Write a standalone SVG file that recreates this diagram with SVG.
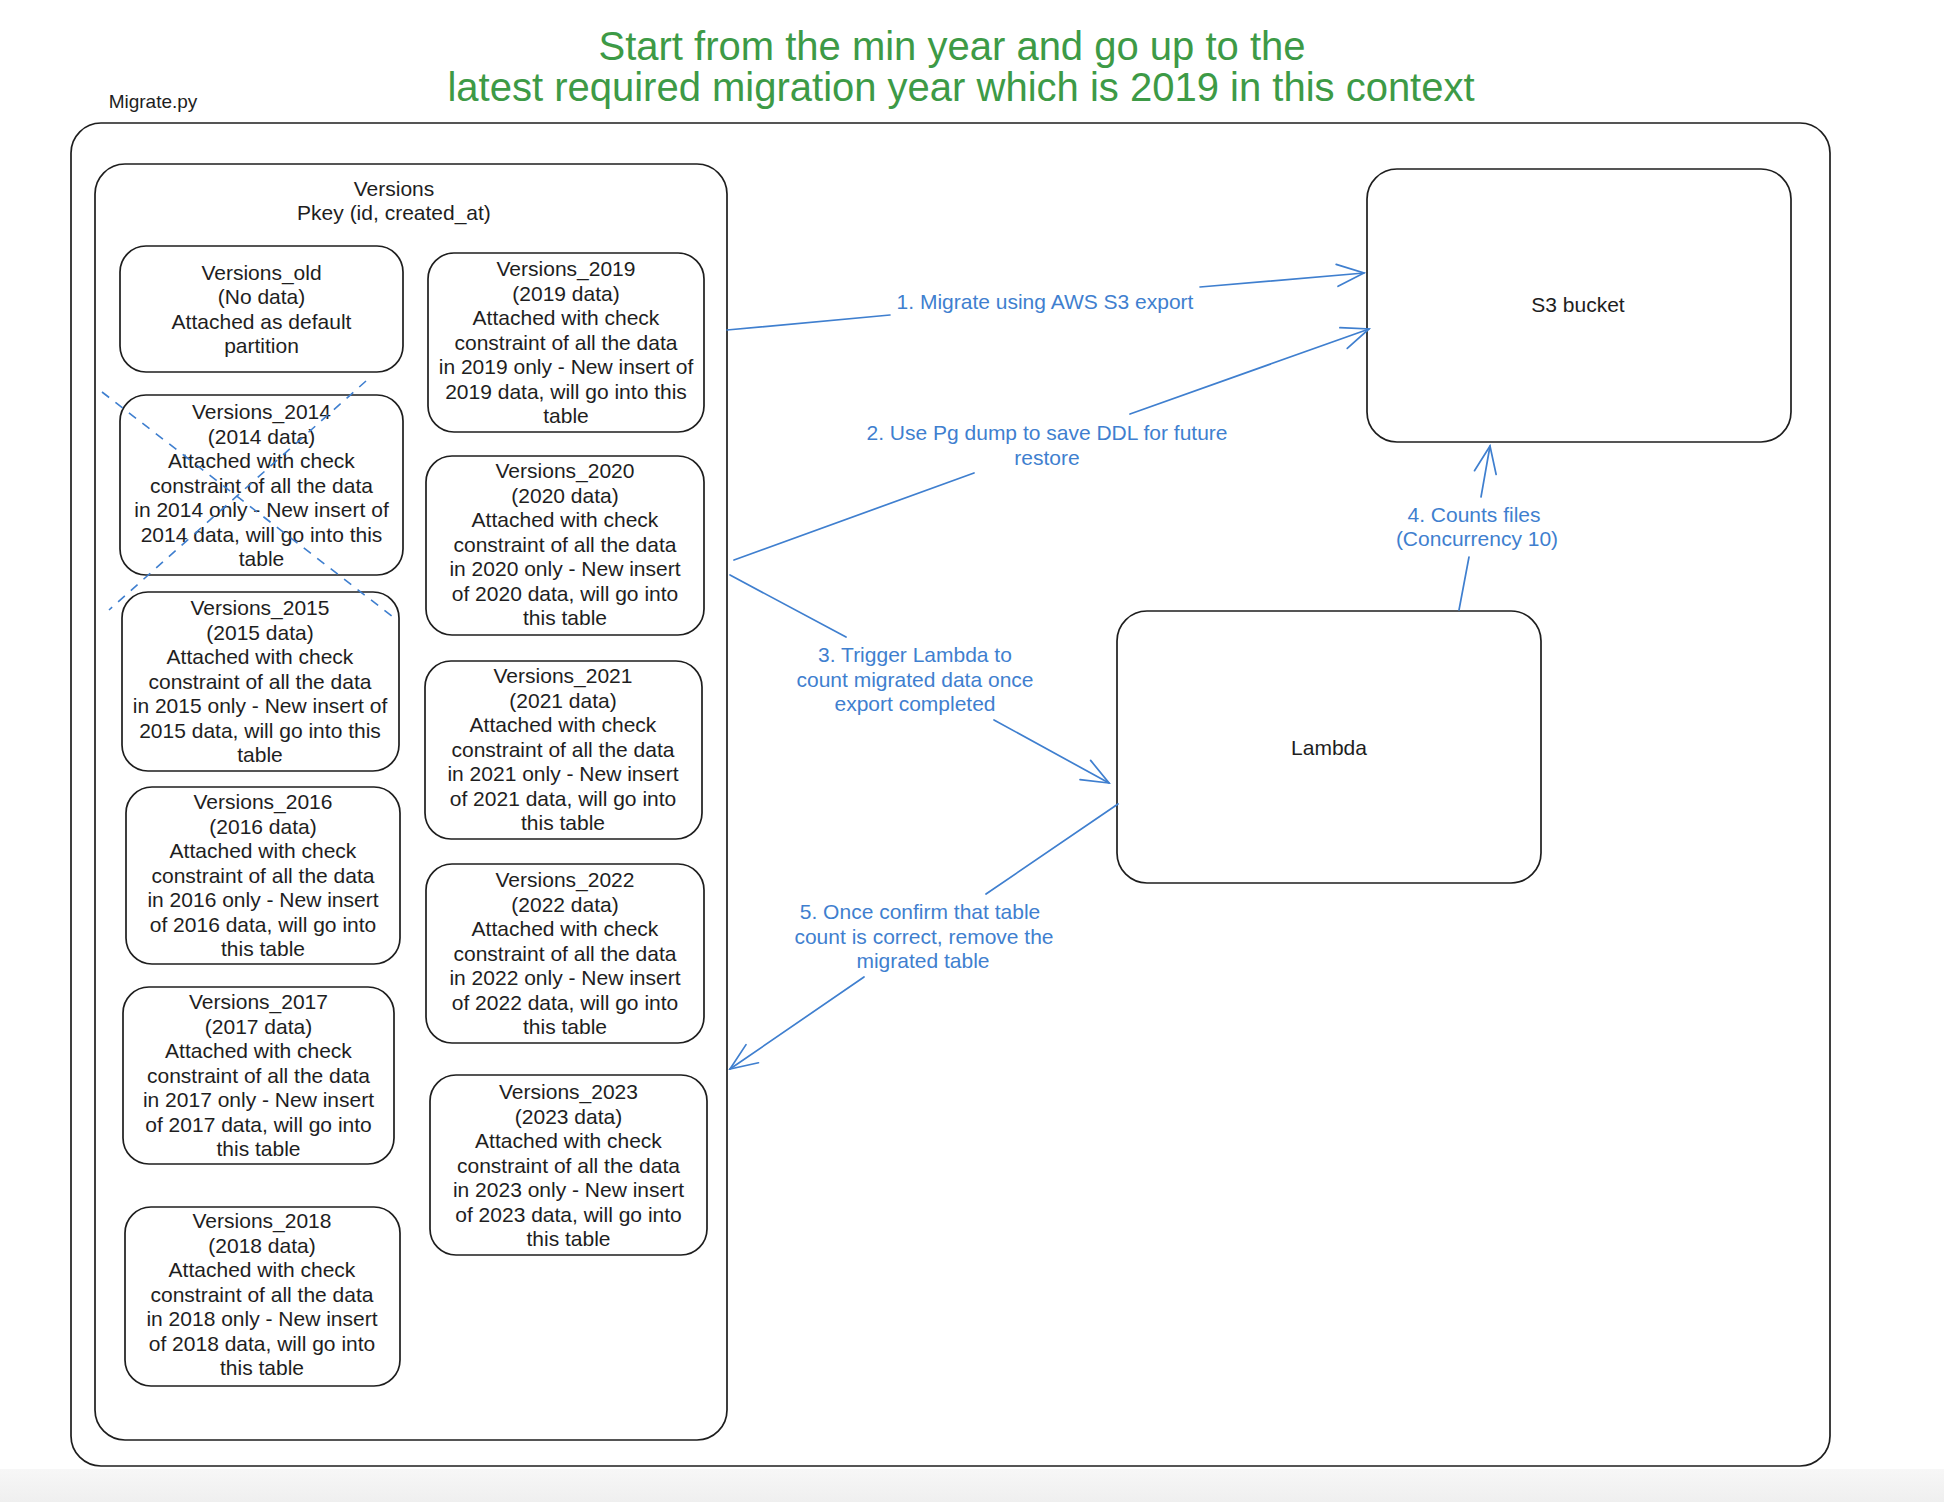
<svg xmlns="http://www.w3.org/2000/svg" width="1944" height="1502" viewBox="0 0 1944 1502">
<defs>
<style>
.box{fill:#ffffff;stroke:#1e1e1e;stroke-width:1.7}
.frame{fill:none;stroke:#1e1e1e;stroke-width:1.7}
.t{font-family:"Liberation Sans",Arial,sans-serif;font-size:21px;fill:#1e1e1e;text-anchor:middle}
.lbl{font-family:"Liberation Sans",Arial,sans-serif;font-size:21px;fill:#3f7fcf;text-anchor:middle}
.title{font-family:"Liberation Sans",Arial,sans-serif;font-size:40px;fill:#3d9a46;text-anchor:middle}
.conn{fill:none;stroke:#3f7fcf;stroke-width:1.7;stroke-linecap:round}
.dash{fill:none;stroke:#3f7fcf;stroke-width:1.6;stroke-dasharray:9 8}
</style>
<marker id="arr" markerUnits="userSpaceOnUse" viewBox="-30 -15 32 30" refX="0" refY="0" markerWidth="32" markerHeight="30" orient="auto">
<path d="M -27 -11 L 0 0 L -27 11" fill="none" stroke="#3f7fcf" stroke-width="1.7" stroke-linecap="round"/>
</marker>
<linearGradient id="bg" x1="0" y1="0" x2="0" y2="1">
<stop offset="0" stop-color="#f7f7f7"/>
<stop offset="1" stop-color="#efefef"/>
</linearGradient>
</defs>
<rect x="0" y="0" width="1944" height="1502" fill="#ffffff"/>
<rect x="0" y="1469" width="1944" height="33" fill="url(#bg)"/>

<g id="title">
<text class="title" x="952" y="60">Start from the min year and go up to the</text>
<text class="title" x="961" y="101">latest required migration year which is 2019 in this context</text>
</g>

<g id="migrate">
<rect class="box" x="71" y="123" width="1759" height="1343" rx="30"/>
<text class="t" x="153" y="108" style="font-size:19px">Migrate.py</text>
</g>

<g id="versions">
<rect class="box" x="95" y="164" width="632" height="1276" rx="30"/>
<text class="t" x="394" y="196">Versions</text>
<text class="t" x="394" y="220">Pkey (id, created_at)</text>
</g>

<g id="versions_old">
<rect class="box" x="120" y="246" width="283" height="126" rx="26"/>
<text class="t"><tspan x="261.5" y="280">Versions_old</tspan><tspan x="261.5" dy="24">(No data)</tspan><tspan x="261.5" dy="24.5">Attached as default</tspan><tspan x="261.5" dy="24.5">partition</tspan></text>
</g>

<g id="versions_2014">
<rect class="box" x="120" y="395" width="283" height="180" rx="26"/>
<text class="t"><tspan x="261.5" y="419">Versions_2014</tspan><tspan x="261.5" dy="24.5">(2014 data)</tspan><tspan x="261.5" dy="24.5">Attached with check</tspan><tspan x="261.5" dy="24.5">constraint of all the data</tspan><tspan x="261.5" dy="24.5">in 2014 only - New insert of</tspan><tspan x="261.5" dy="24.5">2014 data, will go into this</tspan><tspan x="261.5" dy="24.5">table</tspan></text>
</g>

<g id="versions_2015">
<rect class="box" x="122" y="592" width="277" height="179" rx="26"/>
<text class="t"><tspan x="260" y="615">Versions_2015</tspan><tspan x="260" dy="24.5">(2015 data)</tspan><tspan x="260" dy="24.5">Attached with check</tspan><tspan x="260" dy="24.5">constraint of all the data</tspan><tspan x="260" dy="24.5">in 2015 only - New insert of</tspan><tspan x="260" dy="24.5">2015 data, will go into this</tspan><tspan x="260" dy="24.5">table</tspan></text>
</g>

<g id="versions_2016">
<rect class="box" x="126" y="787" width="274" height="177" rx="26"/>
<text class="t"><tspan x="263" y="809">Versions_2016</tspan><tspan x="263" dy="24.5">(2016 data)</tspan><tspan x="263" dy="24.5">Attached with check</tspan><tspan x="263" dy="24.5">constraint of all the data</tspan><tspan x="263" dy="24.5">in 2016 only - New insert</tspan><tspan x="263" dy="24.5">of 2016 data, will go into</tspan><tspan x="263" dy="24.5">this table</tspan></text>
</g>

<g id="versions_2017">
<rect class="box" x="123" y="987" width="271" height="177" rx="26"/>
<text class="t"><tspan x="258.5" y="1009">Versions_2017</tspan><tspan x="258.5" dy="24.5">(2017 data)</tspan><tspan x="258.5" dy="24.5">Attached with check</tspan><tspan x="258.5" dy="24.5">constraint of all the data</tspan><tspan x="258.5" dy="24.5">in 2017 only - New insert</tspan><tspan x="258.5" dy="24.5">of 2017 data, will go into</tspan><tspan x="258.5" dy="24.5">this table</tspan></text>
</g>

<g id="versions_2018">
<rect class="box" x="125" y="1207" width="275" height="179" rx="26"/>
<text class="t"><tspan x="262" y="1228">Versions_2018</tspan><tspan x="262" dy="24.5">(2018 data)</tspan><tspan x="262" dy="24.5">Attached with check</tspan><tspan x="262" dy="24.5">constraint of all the data</tspan><tspan x="262" dy="24.5">in 2018 only - New insert</tspan><tspan x="262" dy="24.5">of 2018 data, will go into</tspan><tspan x="262" dy="24.5">this table</tspan></text>
</g>

<g id="versions_2019">
<rect class="box" x="428" y="253" width="276" height="179" rx="26"/>
<text class="t"><tspan x="566" y="276">Versions_2019</tspan><tspan x="566" dy="24.5">(2019 data)</tspan><tspan x="566" dy="24.5">Attached with check</tspan><tspan x="566" dy="24.5">constraint of all the data</tspan><tspan x="566" dy="24.5">in 2019 only - New insert of</tspan><tspan x="566" dy="24.5">2019 data, will go into this</tspan><tspan x="566" dy="24.5">table</tspan></text>
</g>

<g id="versions_2020">
<rect class="box" x="426" y="456" width="278" height="179" rx="26"/>
<text class="t"><tspan x="565" y="478">Versions_2020</tspan><tspan x="565" dy="24.5">(2020 data)</tspan><tspan x="565" dy="24.5">Attached with check</tspan><tspan x="565" dy="24.5">constraint of all the data</tspan><tspan x="565" dy="24.5">in 2020 only - New insert</tspan><tspan x="565" dy="24.5">of 2020 data, will go into</tspan><tspan x="565" dy="24.5">this table</tspan></text>
</g>

<g id="versions_2021">
<rect class="box" x="425" y="661" width="277" height="178" rx="26"/>
<text class="t"><tspan x="563" y="683">Versions_2021</tspan><tspan x="563" dy="24.5">(2021 data)</tspan><tspan x="563" dy="24.5">Attached with check</tspan><tspan x="563" dy="24.5">constraint of all the data</tspan><tspan x="563" dy="24.5">in 2021 only - New insert</tspan><tspan x="563" dy="24.5">of 2021 data, will go into</tspan><tspan x="563" dy="24.5">this table</tspan></text>
</g>

<g id="versions_2022">
<rect class="box" x="426" y="864" width="278" height="179" rx="26"/>
<text class="t"><tspan x="565" y="887">Versions_2022</tspan><tspan x="565" dy="24.5">(2022 data)</tspan><tspan x="565" dy="24.5">Attached with check</tspan><tspan x="565" dy="24.5">constraint of all the data</tspan><tspan x="565" dy="24.5">in 2022 only - New insert</tspan><tspan x="565" dy="24.5">of 2022 data, will go into</tspan><tspan x="565" dy="24.5">this table</tspan></text>
</g>

<g id="versions_2023">
<rect class="box" x="430" y="1075" width="277" height="180" rx="26"/>
<text class="t"><tspan x="568.5" y="1099">Versions_2023</tspan><tspan x="568.5" dy="24.5">(2023 data)</tspan><tspan x="568.5" dy="24.5">Attached with check</tspan><tspan x="568.5" dy="24.5">constraint of all the data</tspan><tspan x="568.5" dy="24.5">in 2023 only - New insert</tspan><tspan x="568.5" dy="24.5">of 2023 data, will go into</tspan><tspan x="568.5" dy="24.5">this table</tspan></text>
</g>

<g id="s3_bucket">
<rect class="box" x="1367" y="169" width="424" height="273" rx="30"/>
<text class="t" x="1578" y="312">S3 bucket</text>
</g>

<g id="lambda">
<rect class="box" x="1117" y="611" width="424" height="272" rx="30"/>
<text class="t" x="1329" y="755">Lambda</text>
</g>

<g id="strike_2014">
<line class="dash" x1="102" y1="392" x2="397" y2="620"/>
<line class="dash" x1="366" y1="381" x2="109" y2="610"/>
</g>

<g id="connectors">
<line class="conn" x1="727" y1="330" x2="890" y2="315"/>
<line class="conn" x1="1200" y1="287" x2="1364" y2="273" marker-end="url(#arr)"/>
<text class="lbl" x="1045" y="309">1. Migrate using AWS S3 export</text>

<line class="conn" x1="734" y1="560" x2="974" y2="473"/>
<line class="conn" x1="1130" y1="414" x2="1369" y2="329" marker-end="url(#arr)"/>
<text class="lbl"><tspan x="1047" y="440">2. Use Pg dump to save DDL for future</tspan><tspan x="1047" dy="24.5">restore</tspan></text>

<line class="conn" x1="730" y1="575" x2="846" y2="637"/>
<line class="conn" x1="994" y1="720" x2="1109" y2="783" marker-end="url(#arr)"/>
<text class="lbl"><tspan x="915" y="662">3. Trigger Lambda to</tspan><tspan x="915" dy="24.5">count migrated data once</tspan><tspan x="915" dy="24.5">export completed</tspan></text>

<line class="conn" x1="1459" y1="610" x2="1469" y2="557"/>
<line class="conn" x1="1481" y1="497" x2="1490" y2="446" marker-end="url(#arr)"/>
<text class="lbl"><tspan x="1474" y="522">4. Counts files</tspan><tspan x="1477" dy="24">(Concurrency 10)</tspan></text>

<line class="conn" x1="1118" y1="804" x2="986" y2="894"/>
<line class="conn" x1="864" y1="977" x2="730" y2="1069" marker-end="url(#arr)"/>
<text class="lbl"><tspan x="920" y="919">5. Once confirm that table</tspan><tspan x="924" dy="24.5">count is correct, remove the</tspan><tspan x="923" dy="24.5">migrated table</tspan></text>
</g>
</svg>
